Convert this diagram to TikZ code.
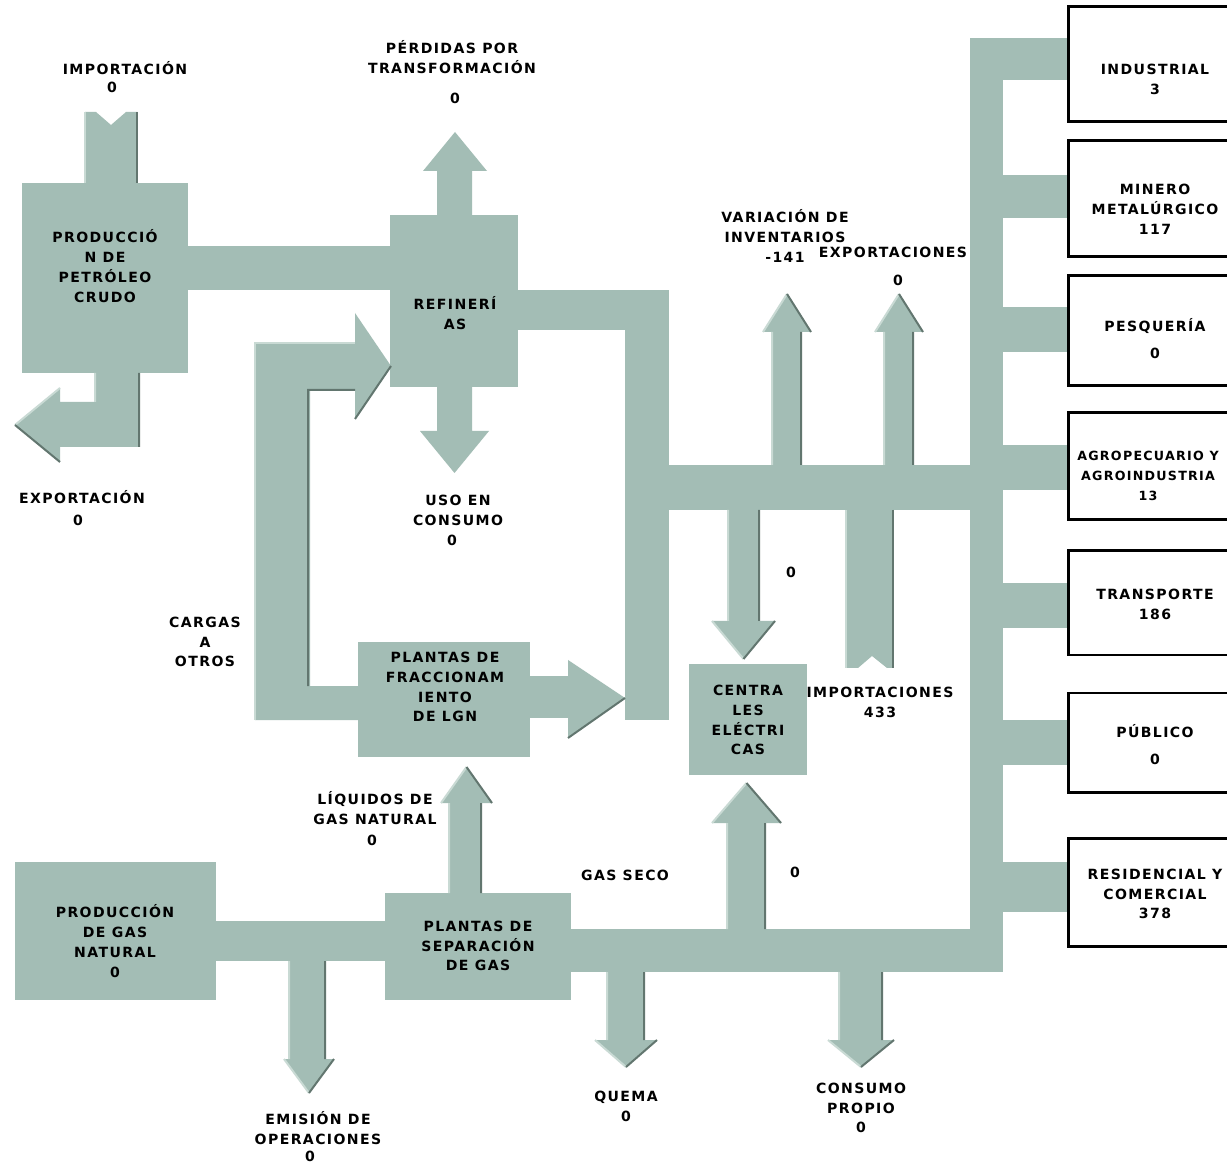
\documentclass[tikz,border=0pt]{standalone}
\usepackage{fontspec}
\usepackage{tikz}
\usetikzlibrary{fit}
\newfontfamily\pixfont{DejaVu Sans}[LetterSpace=10]
\definecolor{flowc}{RGB}{163,189,181}
\definecolor{flowhi}{RGB}{201,218,212}
\definecolor{flowlo}{RGB}{98,118,111}
% arrow band: [edges]{x1}{x2}{y start}{y head}{head x1}{head x2}{y tip}
\newcommand{\flowarrow}[8][shade]{%
  \fill[flow] (#2,#4) -- (#2,#5) -- (#6,#5) -- ({(#6+#7)/2},#8) -- (#7,#5) -- (#3,#5) -- (#3,#4) -- cycle;
  \draw[#1hi] (#2,#4) -- (#2,#5) (#6,#5) -- ({(#6+#7)/2},#8);
  \draw[#1lo] (#3,#4) -- (#3,#5) (#7,#5) -- ({(#6+#7)/2},#8);}

\begin{document}
\begin{tikzpicture}[
  x=0.02cm, y=-0.02cm,
  flow/.style={fill=flowc, draw=none},
  unit/.style={fill=flowc, draw=none, inner sep=0pt},
  sector/.style={draw=black, line width=0.06cm, fill=white, inner sep=0pt},
  txt/.style={font=\pixfont\bfseries\fontsize{8}{11.3}\selectfont, align=center, inner sep=0pt},
  shadehi/.style={draw=flowhi, line width=0.04cm},
  shadelo/.style={draw=flowlo, line width=0.04cm},
  flathi/.style={draw=none},
  flatlo/.style={draw=none}
]
\fill[white] (0,0) rectangle (1227,1168);
\useasboundingbox (0,0) rectangle (1227,1168);

% Crude oil side
\node[unit, fit={(22,183) (188,373)}] (crudo) {};
\node[unit, fit={(390,215) (518,387)}] (refi) {};
\node[unit, fit={(358,642) (530,757)}] (fracc) {};
\fill[flow] (188,246) rectangle (390,290);
\fill[flow] (85,183) -- (85,112) -- (96,112) -- (111,125) -- (126,112) -- (137,112) -- (137,183) -- cycle;
\draw[shadehi] (85,112) -- (85,183);
\draw[shadelo] (137,112) -- (137,183);
\fill[flow] (95,373) -- (139,373) -- (139,447) -- (60,447) -- (60,462) -- (15,425) -- (60,388) -- (60,402) -- (95,402) -- cycle;
\draw[shadehi] (95,373) -- (95,402) (60,388) -- (15,425);
\draw[shadelo] (139,373) -- (139,447) (60,462) -- (15,425);
\flowarrow[flat]{437}{472}{215}{171}{423}{487}{132}
\flowarrow[flat]{437}{472}{387}{431}{420}{489}{473}

% Loop from fractionation to refinery
\fill[flow] (255,343) -- (355,343) -- (355,313) -- (391,366) -- (355,419) -- (355,390) -- (310,390) -- (310,686) -- (358,686) -- (358,720) -- (255,720) -- cycle;
\draw[shadehi] (255,720) -- (255,343) -- (355,343);
\draw[shadelo] (308,686) -- (308,390) -- (355,390) (355,419) -- (391,366);

% Refinery and fractionation outlets
\fill[flow] (518,290) rectangle (669,330);
\fill[flow] (625,290) rectangle (669,720);
\fill[flow] (530,676) rectangle (568,718);
\fill[flow] (568,660) -- (625,698) -- (568,738) -- cycle;
\draw[shadelo] (568,738) -- (625,698);

% Main distribution
\fill[flow] (625,465) rectangle (1003,510);
\fill[flow] (970,38) rectangle (1003,972);
\foreach \ya/\yb in {38/80, 175/218, 307/352, 445/490, 583/628, 720/765, 862/912}
  \fill[flow] (1003,\ya) rectangle (1068,\yb);
\flowarrow{772}{801}{465}{332}{763}{811}{294}
\flowarrow{884}{913}{465}{332}{875}{923}{294}

% Power plants
\node[unit, fit={(689,664) (807,775)}] (centr) {};
\flowarrow{728}{759}{510}{621}{712}{775}{659}
\fill[flow] (846,510) -- (846,668) -- (858,668) -- (872,656) -- (887,668) -- (893,668) -- (893,510) -- cycle;
\draw[shadehi] (846,510) -- (846,668);
\draw[shadelo] (893,510) -- (893,668);

% Natural gas side
\node[unit, fit={(15,862) (216,1000)}] (prodgas) {};
\node[unit, fit={(385,893) (571,1000)}] (separ) {};
\fill[flow] (216,921) rectangle (385,961);
\fill[flow] (571,929) rectangle (1003,972);
\flowarrow{727}{765}{929}{823}{712}{781}{783}
\flowarrow{449}{481}{893}{803}{441}{492}{767}
\flowarrow{289}{325}{961}{1059}{284}{334}{1093}
\flowarrow{607}{644}{972}{1040}{595}{657}{1067}
\flowarrow{839}{882}{972}{1040}{828}{894}{1067}

% Sectors
\node[sector, fit={(1068,7) (1245,122)}] (ind) {};
\node[sector, fit={(1068,141) (1245,257)}] (min) {};
\node[sector, fit={(1068,276) (1245,386)}] (pes) {};
\node[sector, fit={(1068,413) (1245,520)}] (agro) {};
\node[sector, fit={(1068,551) (1245,655)}] (trans) {};
\node[sector, fit={(1068,693) (1245,792)}] (pub) {};
\node[sector, fit={(1068,838) (1245,946)}] (res) {};

% Box texts
\node[txt] (crudo-t) at (105,266) {PRODUCCIÓ\\N DE\\PETRÓLEO\\CRUDO};
\node[txt] (refi-t) at (455,313) {REFINERÍ\\AS};
\node[txt] (fracc-t) at (445,687) {PLANTAS DE\\FRACCIONAM\\IENTO\\DE LGN};
\node[txt] (centr-t) at (748,720) {CENTRA\\LES\\ELÉCTRI\\CAS};
\node[txt] (prodgas-t) at (115,941) {PRODUCCIÓN\\DE GAS\\NATURAL\\0};
\node[txt] (separ-t) at (478,946) {PLANTAS DE\\SEPARACIÓN\\DE GAS};
\node[txt] (ind-t) at (1155,79) {INDUSTRIAL\\3};
\node[txt] (min-t) at (1155,209) {MINERO\\METALÚRGICO\\117};
\node[txt] (pes-t) at (1155,339) {PESQUERÍA\\[4pt]0};
\node[txt, font=\pixfont\bfseries\fontsize{7.2}{11.3}\selectfont] (agro-t) at (1148,476) {AGROPECUARIO Y\\AGROINDUSTRIA\\13};
\node[txt] (trans-t) at (1155,604) {TRANSPORTE\\186};
\node[txt] (pub-t) at (1155,745) {PÚBLICO\\[4pt]0};
\node[txt] (res-t) at (1155,894) {RESIDENCIAL Y\\COMERCIAL\\378};

% Flow labels
\node[txt] (imp) at (125,68) {IMPORTACIÓN};
\node[txt] (imp-v) at (112,87) {0};
\node[txt] (perd) at (452,57) {PÉRDIDAS POR\\TRANSFORMACIÓN};
\node[txt] (perd-v) at (455,98) {0};
\node[txt] (exp) at (82,497) {EXPORTACIÓN};
\node[txt] (exp-v) at (78,520) {0};
\node[txt] (uso) at (458,510) {USO EN\\CONSUMO};
\node[txt] (uso-v) at (452,540) {0};
\node[txt] (carg) at (205,642) {CARGAS\\A\\OTROS};
\node[txt] (var) at (785,236) {VARIACIÓN DE\\INVENTARIOS\\-141};
\node[txt] (expo) at (893,252) {EXPORTACIONES};
\node[txt] (expo-v) at (898,280) {0};
\node[txt] (cen-v) at (791,572) {0};
\node[txt] (impo) at (880,702) {IMPORTACIONES\\433};
\node[txt] (seco) at (625,875) {GAS SECO};
\node[txt] (seco-v) at (795,872) {0};
\node[txt] (lgn) at (375,808) {LÍQUIDOS DE\\GAS NATURAL};
\node[txt] (lgn-v) at (372,840) {0};
\node[txt] (emis) at (318,1128) {EMISIÓN DE\\OPERACIONES};
\node[txt] (emis-v) at (310,1156) {0};
\node[txt] (quema) at (626,1106) {QUEMA\\0};
\node[txt] (cprop) at (861,1108) {CONSUMO\\PROPIO\\0};
\end{tikzpicture}
\end{document}
